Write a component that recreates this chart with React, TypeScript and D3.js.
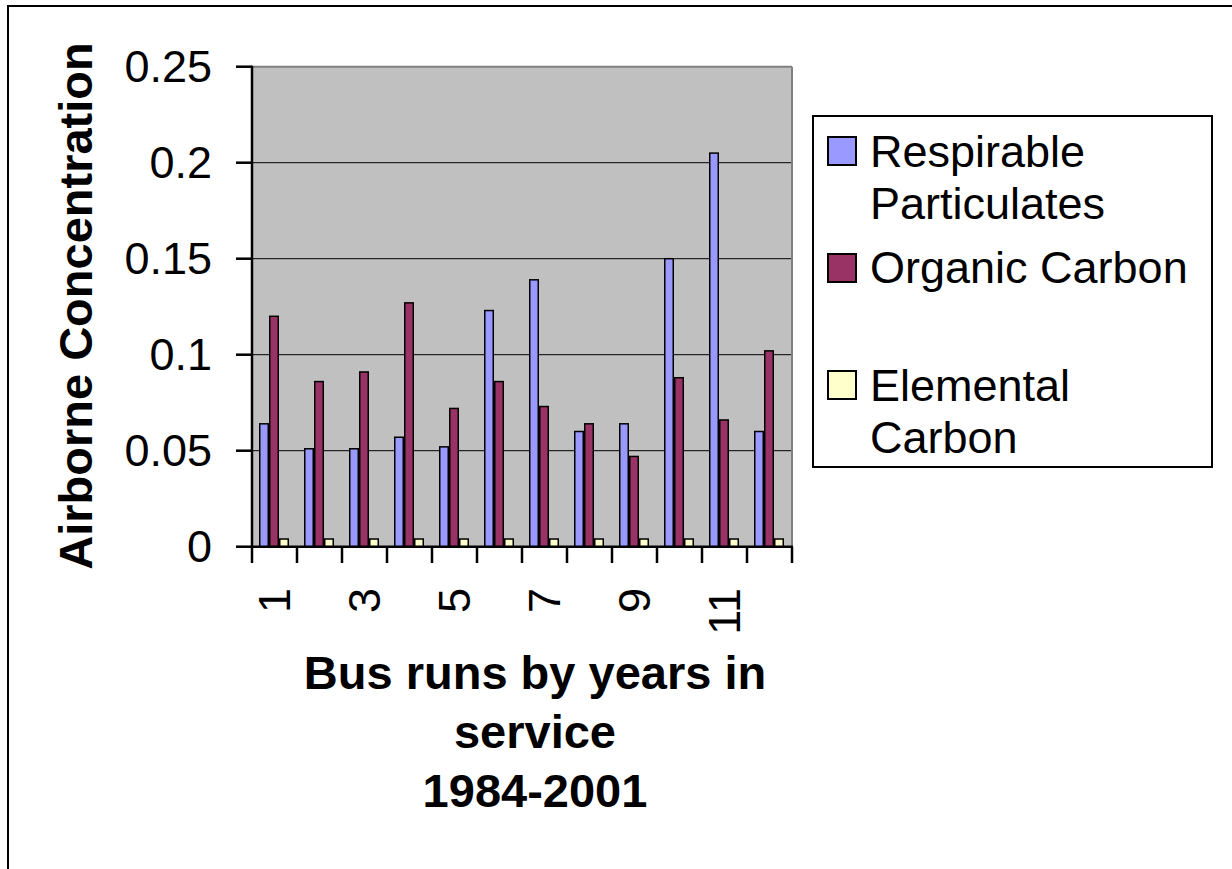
import React from 'react';
import * as d3 from 'd3';

const categories = ['1', '2', '3', '4', '5', '6', '7', '8', '9', '10', '11', '12'];
const seriesNames = ['Respirable Particulates', 'Organic Carbon', 'Elemental Carbon'];
const respirable = [0.064, 0.051, 0.051, 0.057, 0.052, 0.123, 0.139, 0.06, 0.064, 0.15, 0.205, 0.06];
const organic = [0.12, 0.086, 0.091, 0.127, 0.072, 0.086, 0.073, 0.064, 0.047, 0.088, 0.066, 0.102];
const elemental = [0.004, 0.004, 0.004, 0.004, 0.004, 0.004, 0.004, 0.004, 0.004, 0.004, 0.004, 0.004];
const yTicks = [0, 0.05, 0.1, 0.15, 0.2, 0.25];
const xLabels = ['1', '3', '5', '7', '9', '11'];

const colors = ['#9999FF', '#993366', '#FFFFCC'];
const seriesValues = [respirable, organic, elemental];

const W = 1232;
const H = 869;
const plot = { left: 252, right: 792, top: 66.7, bottom: 546.7 };
const FONT = '"Liberation Sans", Arial, Helvetica, sans-serif';

const App: React.FC = () => {
  const x0 = d3.scaleBand().domain(categories).range([plot.left, plot.right]).padding(0);
  const x1 = d3.scaleBand().domain(seriesNames).range([7, 37]).padding(0);
  const y = d3.scaleLinear().domain([0, 0.25]).range([plot.bottom, plot.top]);
  const bw = x0.bandwidth();

  // legend rows: swatch top, text lines, first baseline
  const legend = [
    { top: 137, lines: ['Respirable', 'Particulates'], base: 167 },
    { top: 254, lines: ['Organic Carbon'], base: 283 },
    { top: 371, lines: ['Elemental', 'Carbon'], base: 401 },
  ];

  return (
    <div style={{ position: 'absolute', left: 0, top: 0 }}>
      <svg width={W} height={H} style={{ display: 'block', background: '#fff' }}>
        {/* chart border */}
        <rect x={8} y={6} width={W + 10} height={H + 10} fill="none" stroke="#000" strokeWidth={2} />

        {/* plot area */}
        <rect x={plot.left} y={plot.top} width={plot.right - plot.left} height={plot.bottom - plot.top} fill="#C0C0C0" />
        {yTicks.filter(t => t > 0 && t < 0.25).map(t => (
          <line key={t} x1={plot.left} x2={plot.right} y1={y(t)} y2={y(t)} stroke="#000" strokeWidth={1} />
        ))}
        <line x1={plot.left} x2={plot.right} y1={plot.top} y2={plot.top} stroke="#808080" strokeWidth={2} />
        <line x1={plot.right} x2={plot.right} y1={plot.top} y2={plot.bottom} stroke="#808080" strokeWidth={2} />

        {/* bars */}
        {categories.map((c, i) => (
          <g key={c} transform={`translate(${x0(c)},0)`}>
            {seriesNames.map((s, j) => (
              <rect
                key={s}
                x={x1(s)! + 0.75}
                y={y(seriesValues[j][i])}
                width={x1.bandwidth() - 1.5}
                height={y(0) - y(seriesValues[j][i])}
                fill={colors[j]}
                stroke="#000"
                strokeWidth={1.5}
              />
            ))}
          </g>
        ))}

        {/* y axis */}
        <line x1={plot.left} x2={plot.left} y1={plot.top - 1} y2={plot.bottom + 1} stroke="#000" strokeWidth={2.5} />
        {yTicks.map(t => (
          <g key={t}>
            <line x1={236} x2={plot.left} y1={y(t)} y2={y(t)} stroke="#000" strokeWidth={2.5} />
            <text x={212} y={y(t)} dy="0.35em" textAnchor="end" fontFamily={FONT} fontSize={45}>
              {String(t)}
            </text>
          </g>
        ))}

        {/* x axis */}
        <line x1={plot.left - 1} x2={plot.right + 1} y1={plot.bottom} y2={plot.bottom} stroke="#000" strokeWidth={2.5} />
        {d3.range(categories.length + 1).map(k => (
          <line
            key={k}
            x1={plot.left + k * bw}
            x2={plot.left + k * bw}
            y1={plot.bottom}
            y2={563}
            stroke="#000"
            strokeWidth={2.5}
          />
        ))}
        {xLabels.map(l => (
          <text
            key={l}
            transform={`translate(${x0(l)! + bw / 2},588) rotate(-90)`}
            dy="0.35em"
            textAnchor="end"
            fontFamily={FONT}
            fontSize={45}
          >
            {l}
          </text>
        ))}

        {/* axis titles */}
        <text
          transform="translate(92,306) rotate(-90)"
          textAnchor="middle"
          fontFamily={FONT}
          fontWeight="bold"
          fontSize={47}
        >
          Airborne Concentration
        </text>
        {['Bus runs by years in', 'service', '1984-2001'].map((t, i) => (
          <text
            key={t}
            x={535}
            y={689 + i * 59}
            textAnchor="middle"
            fontFamily={FONT}
            fontWeight="bold"
            fontSize={47}
          >
            {t}
          </text>
        ))}

        {/* legend */}
        <rect x={813} y={116} width={399} height={351} fill="#fff" stroke="#000" strokeWidth={2} />
        {legend.map((e, i) => (
          <g key={seriesNames[i]}>
            <rect x={828} y={e.top} width={28} height={28} fill={colors[i]} stroke="#000" strokeWidth={2} />
            {e.lines.map((ln, k) => (
              <text key={ln} x={870} y={e.base + k * 52} fontFamily={FONT} fontSize={45}>
                {ln}
              </text>
            ))}
          </g>
        ))}
      </svg>
    </div>
  );
};

export default App;
